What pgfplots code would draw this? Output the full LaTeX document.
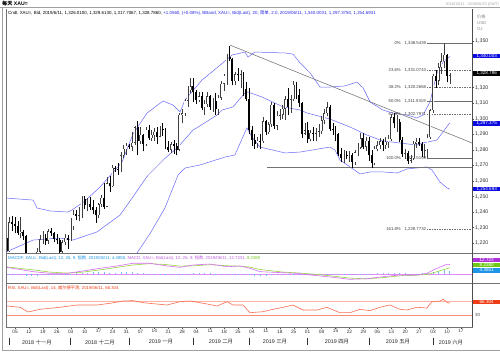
\documentclass[border=0pt]{standalone}
\usepackage{fontspec}
\setmainfont{Liberation Sans}
\newfontfamily\cjk{Noto Sans CJK SC}
\usepackage{pgfplots}
\usepackage{pgfplotstable}
\pgfplotsset{compat=1.18}

\definecolor{bbblue}{RGB}{105,105,250}
\definecolor{legblue}{RGB}{40,40,230}
\definecolor{macdpink}{RGB}{215,110,245}
\definecolor{siggreen}{RGB}{150,215,60}
\definecolor{histblue}{RGB}{110,190,245}
\definecolor{rsired}{RGB}{250,110,80}
\definecolor{rsiband}{RGB}{252,180,165}
\definecolor{boxblue}{RGB}{10,10,225}
\definecolor{boxmag}{RGB}{175,50,215}
\definecolor{boxgreen}{RGB}{110,200,20}
\definecolor{boxcyan}{RGB}{30,150,230}
\definecolor{boxred}{RGB}{240,60,20}
\definecolor{fibgray}{RGB}{110,110,110}
\definecolor{framegray}{RGB}{160,160,160}

\newcommand\fs[1]{\fontsize{#1}{#1}\selectfont}
\pgfplotsset{candle/.style={only marks, mark=*, mark size=0pt, mark options={draw=none, fill=none},
  error bars/y dir=plus, error bars/y explicit, error bars/error mark=none}}

\pgfplotstableread{
i o h l c
0 1215.0 1237.0 1214.5 1233.3
4 1226.6 1237.0 1223.5 1227.2
8 1201.2 1206.0 1196.2 1201.8
9 1201.8 1211.0 1199.5 1210.0
10 1210.0 1217.0 1207.5 1214.6
11 1214.6 1225.0 1212.5 1222.5
12 1222.5 1227.5 1219.5 1223.5
14 1221.5 1229.0 1219.5 1227.5
19 1214.5 1222.0 1213.0 1220.5
20 1220.5 1226.0 1219.0 1223.5
22 1222.0 1236.0 1221.5 1231.0
23 1231.0 1241.0 1228.5 1238.5
25 1237.5 1243.5 1234.0 1238.0
26 1238.0 1250.5 1236.0 1248.5
28 1244.5 1249.0 1240.5 1245.0
32 1238.0 1246.0 1236.0 1245.0
33 1245.0 1251.0 1243.5 1249.0
35 1243.5 1262.5 1243.0 1258.5
37 1256.5 1270.0 1256.0 1268.5
40 1267.5 1278.5 1265.5 1276.5
41 1276.5 1283.0 1275.0 1280.5
42 1280.5 1284.5 1276.5 1282.5
44 1282.0 1291.5 1279.5 1284.5
45 1284.5 1295.5 1283.0 1294.5
47 1285.5 1295.0 1284.0 1289.5
49 1283.5 1295.0 1282.5 1293.0
51 1287.5 1293.0 1286.0 1289.5
52 1289.5 1294.0 1286.0 1291.5
54 1288.5 1295.5 1288.0 1293.5
58 1280.0 1285.0 1278.0 1283.5
61 1280.0 1304.0 1279.0 1302.5
62 1302.5 1306.5 1297.0 1303.5
63 1303.5 1312.5 1301.5 1311.5
64 1311.5 1321.0 1307.5 1318.5
65 1318.5 1326.5 1316.5 1321.0
68 1312.0 1317.5 1310.5 1314.5
70 1307.0 1312.0 1302.5 1309.5
71 1309.5 1317.0 1307.5 1314.5
73 1307.5 1313.5 1304.5 1311.5
75 1306.0 1315.5 1302.5 1313.5
76 1313.5 1324.5 1312.0 1322.5
77 1322.5 1328.5 1318.0 1327.5
78 1327.5 1341.5 1322.0 1340.0
81 1324.0 1330.0 1322.0 1328.5
83 1328.0 1331.5 1319.5 1328.5
89 1284.0 1288.0 1281.5 1286.0
91 1285.5 1301.0 1284.5 1298.5
93 1291.5 1298.0 1290.5 1296.5
94 1296.5 1311.0 1295.0 1309.0
96 1295.5 1305.0 1292.5 1302.0
97 1302.0 1306.5 1299.0 1302.5
98 1302.5 1309.0 1300.0 1306.5
99 1306.5 1314.5 1299.5 1312.5
101 1307.5 1315.0 1303.5 1312.5
102 1312.5 1324.5 1311.5 1322.0
106 1290.5 1297.0 1289.5 1292.5
108 1287.0 1293.0 1285.5 1291.0
110 1290.5 1294.0 1285.5 1291.0
111 1291.0 1296.5 1288.0 1292.0
112 1292.0 1301.5 1290.5 1299.0
113 1299.0 1306.0 1296.5 1303.5
114 1303.5 1310.5 1301.5 1307.5
120 1274.5 1280.0 1271.5 1277.0
122 1276.0 1279.0 1272.5 1276.5
124 1272.0 1280.0 1270.5 1278.5
125 1278.5 1284.5 1276.0 1281.5
126 1281.5 1291.0 1280.5 1287.5
128 1282.0 1288.5 1279.5 1286.0
131 1271.5 1282.5 1270.0 1280.5
132 1280.5 1285.5 1279.0 1283.0
133 1283.0 1287.5 1280.5 1285.5
135 1283.0 1288.0 1280.5 1285.0
136 1285.0 1289.5 1281.5 1287.0
137 1287.0 1303.0 1286.0 1301.0
139 1297.0 1302.5 1291.5 1298.0
142 1277.5 1280.5 1274.0 1278.0
144 1273.0 1276.5 1271.5 1274.5
145 1274.5 1285.5 1273.5 1284.0
146 1284.0 1287.5 1281.5 1285.0
149 1279.5 1283.5 1275.0 1280.0
150 1280.0 1290.0 1274.5 1288.0
151 1288.0 1306.0 1287.0 1305.5
152 1305.5 1328.5 1304.0 1327.5
154 1324.5 1336.0 1322.0 1333.0
155 1333.0 1342.5 1329.0 1337.0
156 1337.0 1348.5 1332.5 1341.0
158 1327.7 1329.6 1322.5 1328.8
}\bull

\pgfplotstableread{
i o h l c
-1 1223.5 1226.5 1211.5 1215.0
1 1233.3 1237.5 1228.0 1232.6
2 1232.6 1236.5 1226.5 1230.8
3 1230.8 1234.0 1225.0 1226.6
5 1227.2 1228.5 1222.0 1224.3
6 1224.3 1225.0 1206.5 1209.5
7 1209.5 1210.5 1200.5 1201.2
13 1223.5 1226.0 1219.0 1221.5
15 1227.5 1229.5 1224.5 1226.5
16 1226.5 1227.0 1220.5 1222.5
17 1222.5 1226.0 1219.5 1222.0
18 1222.0 1223.0 1211.5 1214.5
21 1223.5 1225.0 1216.5 1222.0
24 1238.5 1241.5 1235.0 1237.5
27 1248.5 1250.5 1242.0 1244.5
29 1245.0 1249.5 1241.5 1243.5
30 1243.5 1248.0 1238.5 1241.5
31 1241.5 1243.5 1233.0 1238.0
34 1249.0 1258.5 1242.0 1243.5
36 1258.5 1263.0 1253.0 1256.5
38 1268.5 1269.5 1266.0 1268.0
39 1268.0 1271.5 1264.0 1267.5
43 1282.5 1284.0 1280.5 1282.0
46 1294.5 1298.5 1276.5 1285.5
48 1289.5 1290.0 1279.0 1283.5
50 1293.0 1296.0 1286.5 1287.5
53 1291.5 1294.5 1284.0 1288.5
55 1293.5 1297.5 1289.0 1292.5
56 1292.5 1294.0 1280.5 1282.0
57 1282.0 1285.5 1278.5 1280.0
59 1283.5 1286.5 1277.5 1282.5
60 1282.5 1284.5 1276.5 1280.0
66 1321.0 1326.0 1310.5 1317.0
67 1317.0 1318.5 1309.5 1312.0
69 1314.5 1317.5 1305.5 1307.0
72 1314.5 1315.0 1305.5 1307.5
74 1311.5 1316.5 1302.5 1306.0
79 1340.0 1346.8 1337.0 1338.5
80 1338.5 1339.0 1321.5 1324.0
82 1328.5 1332.5 1324.5 1328.0
84 1328.5 1330.0 1314.5 1319.0
85 1319.0 1323.5 1311.5 1313.0
86 1313.0 1319.5 1290.5 1293.0
87 1293.0 1295.5 1282.5 1286.5
88 1286.5 1290.0 1280.5 1284.0
90 1286.0 1290.5 1280.5 1285.5
92 1298.5 1299.5 1289.5 1291.5
95 1309.0 1310.0 1293.5 1295.5
100 1312.5 1320.0 1302.5 1307.5
103 1322.0 1323.5 1312.5 1315.5
104 1315.5 1319.0 1307.5 1310.0
105 1310.0 1311.0 1287.5 1290.5
107 1292.5 1298.0 1284.5 1287.0
109 1291.0 1294.5 1286.0 1290.5
115 1307.5 1309.0 1292.0 1293.5
116 1293.5 1297.5 1289.5 1293.0
117 1293.0 1295.5 1285.5 1290.0
118 1290.0 1291.0 1276.0 1277.5
119 1277.5 1281.0 1272.0 1274.5
121 1277.0 1279.5 1274.0 1276.0
123 1276.5 1278.0 1268.5 1272.0
127 1287.5 1291.0 1280.5 1282.0
129 1286.0 1288.5 1273.0 1276.5
130 1276.5 1280.0 1268.5 1271.5
134 1285.5 1287.0 1279.5 1283.0
138 1301.0 1303.5 1294.0 1297.0
140 1298.0 1300.0 1285.0 1286.5
141 1286.5 1288.0 1275.5 1277.5
143 1278.0 1279.5 1271.0 1273.0
147 1285.0 1287.5 1282.5 1284.0
148 1284.0 1285.0 1275.5 1279.5
153 1327.5 1331.5 1320.0 1324.5
157 1341.0 1341.5 1323.5 1327.7
}\bear

\begin{document}
\begin{tikzpicture}
\useasboundingbox (0,0) rectangle (500bp,352bp);
\fill[white] (0,0) rectangle (500bp,352bp);

% ---------------- price panel ----------------
\begin{axis}[at={(6bp,99bp)}, anchor=south west, scale only axis,
  width=466bp, height=244bp,
  xmin=-1.23, xmax=165.97, ymin=1213.67, ymax=1370.58,
  axis x line=none, axis y line*=right,
  y axis line style={black!70, line width=0.5bp},
  ytick={1220,1230,...,1350},
  yticklabels={1{,}220,1{,}230,1{,}240,1{,}250,1{,}260,1{,}270,1{,}280,1{,}290,1{,}300,1{,}310,1{,}320,{},{},1{,}350},
  tick align=outside, major tick length=2bp,
  ytick style={black!70, line width=0.4bp},
  yticklabel style={font=\fs{5.3}, text=black!80, anchor=west, inner sep=1bp},
  clip=true]
% Bollinger bands
\addplot[bbblue, line width=0.5bp] coordinates {(-1.2,1249.0) (8.5,1247.7) (9.9,1242.6) (14.6,1240.7) (21.0,1240.0) (22.4,1241.3) (27,1247) (32.5,1256.1) (37.9,1267.0) (40.4,1272.2) (44.3,1290.0) (49.4,1303.7) (55.1,1311.4) (58.7,1308.8) (61.2,1304.3) (63.0,1312.1) (69.1,1324.9) (74.8,1333.3) (79.9,1341.0) (84.5,1342.9) (85.6,1339.7) (88.1,1342.9) (98.9,1342.3) (101.7,1341.6) (104.3,1335.9) (107.9,1329.4) (111.4,1320.4) (115.0,1320.4) (120.4,1321.1) (124.7,1323.6) (126.9,1319.8) (129.4,1310.8) (134.0,1305.6) (137.6,1303.7) (142.6,1302.4) (146.2,1300.5) (148.4,1302.4) (150.9,1310.8) (153.4,1329.4) (155.6,1336.5) (158,1340.0)};
\addplot[bbblue, line width=0.5bp] coordinates {(-1.2,1214.3) (8.5,1222.0) (18.1,1223.3) (22.8,1222.0) (31.4,1227.2) (39.7,1238.1) (44.3,1249.7) (49.4,1263.0) (55.8,1274.5) (60.5,1281.8) (65.9,1292.8) (67.7,1294.7) (74.5,1302.4) (76.3,1305.6) (80.2,1307.6) (84.5,1316.6) (85.6,1317.2) (90.6,1314.0) (98.2,1307.6) (104.3,1305.6) (106.8,1303.7) (115.0,1299.8) (122.2,1294.7) (128.3,1289.5) (134.0,1285.7) (140.1,1284.4) (146.2,1283.1) (148.4,1284.4) (153.4,1286.3) (158,1297.4)};
\addplot[bbblue, line width=0.5bp] coordinates {(-1.2,1198) (8.5,1196.3) (14.6,1200) (21,1204) (27,1205) (32.5,1200) (40,1204) (44.3,1210) (45.8,1213.7) (50.4,1226) (55.8,1242.6) (60.5,1263.8) (63.0,1268.3) (68.4,1270.3) (77.4,1275.4) (80.9,1276.7) (85.2,1294.1) (87.0,1288.3) (89.9,1281.8) (98.9,1278.0) (104.3,1278.6) (115.0,1281.8) (116.8,1279.9) (118.6,1273.5) (122.2,1269.0) (125.8,1264.5) (129.4,1265.8) (134.0,1265.8) (139.1,1265.1) (142.6,1267.7) (149.8,1269.0) (151.6,1267.0) (154.5,1259.3) (157.0,1255.5) (158,1254.7)};
% trend line and support line
\addplot[black!55, line width=0.55bp] coordinates {(79.1,1347.4) (166,1284.4)};
\addplot[black!55, line width=0.55bp] coordinates {(92.4,1268.6) (166,1268.6)};
% Fibonacci levels
\addplot[fibgray, line width=0.5bp] coordinates {(149.8,1348.5439) (166,1348.5439)};
\addplot[fibgray, line width=0.5bp, dash pattern=on 1.5bp off 1bp] coordinates {(149.8,1331.0743) (166,1331.0743)};
\addplot[fibgray, line width=0.5bp, dash pattern=on 1.5bp off 1bp] coordinates {(149.8,1320.2668) (166,1320.2668)};
\addplot[fibgray, line width=0.5bp] coordinates {(149.8,1311.5319) (166,1311.5319)};
\addplot[fibgray, line width=0.5bp, dash pattern=on 1.5bp off 1bp] coordinates {(149.8,1302.7971) (166,1302.7971)};
\addplot[fibgray, line width=0.5bp] coordinates {(149.8,1274.5199) (166,1274.5199)};
\addplot[fibgray, line width=0.5bp, dash pattern=on 1.5bp off 1bp] coordinates {(149.8,1228.7732) (166,1228.7732)};
\begin{scope}[every node/.style={font=\fs{4.3}, text=black!75, inner sep=0.3bp}]
\node[anchor=east] at (axis cs:140.6,1348.5439) {.0\%};
\node[anchor=west] at (axis cs:141.6,1348.5439) {1,348.5439};
\node[anchor=east] at (axis cs:140.6,1331.0743) {23.6\%};
\node[anchor=west] at (axis cs:141.6,1331.0743) {1,331.0743};
\node[anchor=east] at (axis cs:140.6,1320.2668) {38.2\%};
\node[anchor=west] at (axis cs:141.6,1320.2668) {1,320.2668};
\node[anchor=east] at (axis cs:140.6,1311.5319) {50.0\%};
\node[anchor=west] at (axis cs:141.6,1311.5319) {1,311.5319};
\node[anchor=east] at (axis cs:140.6,1302.7971) {61.8\%};
\node[anchor=west] at (axis cs:141.6,1302.7971) {1,302.7971};
\node[anchor=east] at (axis cs:140.6,1274.5199) {100.0\%};
\node[anchor=west] at (axis cs:141.6,1274.5199) {1,274.5199};
\node[anchor=east] at (axis cs:140.6,1228.7732) {161.8\%};
\node[anchor=west] at (axis cs:141.6,1228.7732) {1,228.7732};
\end{scope}
% wicks
\addplot[candle, error bars/error bar style={line width=0.45bp, black!75}]
  table[x=i, y=l, y error plus expr=\thisrow{h}-\thisrow{l}] {\bull};
\addplot[candle, error bars/error bar style={line width=0.45bp, black}]
  table[x=i, y=l, y error plus expr=\thisrow{h}-\thisrow{l}] {\bear};
% bear bodies
\addplot[candle, error bars/error bar style={line width=1.9bp, black}]
  table[x=i, y=c, y error plus expr={max(\thisrow{o}-\thisrow{c},0.5)}] {\bear};
% bull bodies (outline then white)
\addplot[candle, error bars/error bar style={line width=1.9bp, black!75}]
  table[x=i, y=o, y error plus expr={max(\thisrow{c}-\thisrow{o},0.5)}] {\bull};
\addplot[candle, error bars/error bar style={line width=1.1bp, white}]
  table[x=i, y expr=\thisrow{o}+0.27, y error plus expr={max(\thisrow{c}-\thisrow{o}-0.54,0)}] {\bull};
\end{axis}

% ---------------- MACD panel ----------------
\begin{axis}[at={(6bp,69bp)}, anchor=south west, scale only axis,
  width=466bp, height=30bp,
  xmin=-1.23, xmax=165.97, ymin=-12, ymax=28, hide axis, clip=true]
\addplot[macdpink!80, line width=0.8bp] coordinates {(-1.23,0) (165.97,0)};
\addplot[ycomb, histblue, line width=0.6bp, mark=none] coordinates {(0,-0.8) (2,-1.4) (4,-2.0) (6,-2.4) (8,-2.4) (10,-2.2) (12,-1.8) (14,-1.6) (16,-1.2) (18,-0.6) (20,-0.3) (22,0.4) (24,1.0) (26,1.5) (28,1.8) (30,2.0) (32,2.1) (34,2.0) (36,1.9) (38,1.9) (40,2.0) (42,2.2) (44,2.3) (46,1.8) (48,1.0) (50,0.5) (52,-0.4) (54,-1.2) (56,-1.8) (58,-1.8) (60,-1.6) (62,-0.6) (64,0.6) (66,1.2) (68,1.1) (70,1.0) (72,0.8) (74,0.2) (76,-0.6) (78,-1.3) (80,-0.6) (82,0.2) (84,-0.6) (86,-1.6) (88,-2.6) (90,-2.9) (92,-2.5) (94,-2.0) (96,-1.5) (98,-0.8) (100,-0.6) (102,-0.5) (104,-0.8) (106,-1.3) (108,-1.5) (110,-1.5) (112,-1.4) (114,-1.5) (116,-1.6) (118,-1.7) (120,-1.6) (122,-1.6) (124,-1.0) (126,-0.4) (128,0.2) (130,0.6) (132,1.0) (134,1.2) (136,1.3) (138,1.2) (140,1.2) (142,0.8) (144,0.3) (146,0.2) (148,0.8) (150,1.5) (152,3.0) (154,4.6) (156,5.5) (158,4.49)};
\addplot[siggreen, line width=0.6bp] coordinates {(-1,9.5) (8.5,5.5) (14.6,2.5) (20.7,1.2) (26.4,2.5) (32.5,5.5) (38.6,8.8) (44.3,12.0) (50.4,13.8) (56.5,12.5) (61.2,10.5) (65.9,10.8) (71.9,12.4) (78.1,11.0) (82.7,10.5) (86.3,9.2) (89.9,6.0) (98.2,2.5) (103.2,1.5) (107.9,0.2) (116.1,-2.8) (122.2,-5.5) (128.3,-6.5) (134.0,-4.8) (140.1,-2.5) (146.2,-1.5) (149.8,-0.6) (153.4,3.0) (157.0,7.2) (158,8.24)};
\addplot[macdpink, line width=0.6bp] coordinates {(-1,8.9) (8.5,3.1) (14.6,0.9) (20.7,0.9) (26.4,4.0) (32.5,7.6) (38.6,10.7) (44.3,14.3) (50.4,14.3) (56.5,10.7) (61.2,8.9) (65.9,12.0) (71.9,13.3) (78.1,9.7) (82.7,10.7) (86.3,7.6) (89.9,3.1) (98.2,1.7) (103.2,0.9) (107.9,-1.3) (116.1,-4.4) (122.2,-7.1) (128.3,-6.3) (134.0,-3.6) (140.1,-1.3) (146.2,-1.3) (149.8,0.9) (153.4,7.6) (157.0,12.9) (158,12.72)};
\end{axis}

% ---------------- RSI panel ----------------
\begin{axis}[at={(6bp,25bp)}, anchor=south west, scale only axis,
  width=466bp, height=44bp,
  xmin=-1.23, xmax=165.97, ymin=-5.6, ymax=124.8,
  axis y line=none, axis x line*=bottom,
  x axis line style={black!70, line width=0.5bp},
  xtick={2,7,...,162},
  xticklabels={05,12,19,26,03,10,17,24,31,07,14,21,28,04,11,18,25,04,11,18,25,01,08,15,22,29,06,13,20,27,03,10,17},
  tick align=outside, major tick length=1.5bp,
  xtick style={black!70, line width=0.4bp},
  xticklabel style={font=\fs{4.8}, text=black!80, inner sep=1bp},
  clip=true]
\addplot[rsiband, line width=1.6bp] coordinates {(-1.23,70) (165.97,70)};
\addplot[rsired!80, line width=0.6bp] coordinates {(-1.23,30) (165.97,30)};
\addplot[rsired, line width=0.6bp] coordinates {(-0.9,56.7) (3.8,52.8) (6.7,38.9) (11.0,46.9) (18.1,52.8) (24.2,59.6) (31.4,59.6) (36.1,64.7) (40.8,71.5) (44.3,72.4) (48.0,66.4) (56.5,59.6) (61.2,69.4) (64.8,71.5) (70.9,62.6) (74.5,56.7) (78.1,69.4) (80.2,59.6) (83.8,59.6) (86.3,36.8) (91.0,39.8) (94.6,46.9) (98.2,52.8) (101.7,59.6) (105.3,44.8) (110.4,44.8) (113.9,52.8) (118.6,36.8) (122.2,36.8) (125.8,46.9) (129.4,42.7) (132.9,52.8) (136.5,59.6) (140.1,46.9) (142.6,44.8) (146.2,52.8) (149.8,50.7) (151.6,69.4) (154.5,71.5) (155.6,76.5) (157.4,65.5) (158,66.3)};
\end{axis}

% ---------------- frame and texts (pixel coordinates) ----------------
\begin{scope}[x=1bp, y=-1bp, shift={(0,352bp)}]
\draw[framegray, line width=1bp] (0,8) -- (500,8);
\draw[framegray, line width=0.8bp] (2,8) -- (2,350) -- (500,350);
\draw[black!55, line width=0.5bp] (6,9) -- (6,327) -- (472,327) -- (472,253);
\draw[black!55, line width=0.5bp] (6,253) -- (500,253);
\draw[black!55, line width=0.5bp] (6,283) -- (500,283);
\draw[black!70, line width=0.5bp] (472,253) -- (472,327);

\node[anchor=west, inner sep=0, font=\fs{5.2}\bfseries] at (2,3.5) {{\cjk 每天} XAU=};
\node[anchor=east, inner sep=0, font=\fs{3.8}, text=black!35] at (499,5) {2018/10/31 - 2019/06/23 (GMT)};
\node[anchor=west, inner sep=0, font=\fs{4.45}] at (8,13.5) {Cndl, XAU=, Bid, 2019/6/11, 1,326.0100, 1,329.6130, 1,317.7067, 1,328.7860, \textcolor{legblue}{+1.0560, (+0.08\%), BBand, XAU=, Bid(Last), 20, {\cjk 简单}, 2.0, 2019/06/11, 1,340.0031, 1,297.3750, 1,254.6931}};
\begin{scope}[every node/.style={anchor=west, inner sep=0, font=\fs{4.3}, text=black!45}]
\node at (477,17) {\cjk 价格};
\node at (477,23) {USD};
\node at (477,29) {Oz};
\end{scope}

\node[anchor=west, inner sep=0, font=\fs{4.3}] at (8,258) {\textcolor{boxcyan}{MACDF, XAU=, Bid(Last), 12, 26, 9, {\cjk 指数}, 2019/06/11, 4.4850,} \textcolor{boxmag!80}{MACD, XAU=, Bid(Last), 12, 26, 9, {\cjk 指数}, 2019/06/11, 12.7231,} \textcolor{boxgreen}{8.2380}};
\node[anchor=west, inner sep=0, font=\fs{4.3}, text=boxred] at (8,288) {RSI, XAU=, Bid(Last), 14, {\cjk 威尔德平滑}, 2019/06/11, 66.304};

% value boxes
\begin{scope}[every node/.style={anchor=west, inner sep=0.5bp, minimum height=4.8bp, minimum width=28bp, align=left, font=\fs{4.6}, text=white}]
\node[fill=boxblue] at (472.5,56) {1,340.003};
\node[fill=black] at (472.5,73.5) {1,328.786};
\node[fill=boxblue] at (472.5,123.3) {1,297.375};
\node[fill=boxblue] at (472.5,189) {1,254.693};
\node[fill=boxmag, minimum height=4.6bp] at (472.5,260) {12.723};
\node[fill=boxgreen, minimum height=4.6bp] at (472.5,265.2) {8.2380};
\node[fill=boxcyan, minimum height=4.6bp] at (472.5,270.4) {4.4851};
\node[fill=boxred, minimum height=4.6bp] at (472.5,302) {66.304};
\end{scope}
\node[anchor=west, inner sep=0, font=\fs{4.5}, text=black!70] at (475,315) {30};

% month labels
\begin{scope}[every node/.style={inner sep=0, font=\fs{5.4}, text=black!85}]
\node at (37,342) {2018 {\cjk 十一月}};
\node at (100,342) {2018 {\cjk 十二月}};
\node at (161,342) {2019 {\cjk 一月}};
\node at (221,342) {2019 {\cjk 二月}};
\node at (275,342) {2019 {\cjk 三月}};
\node at (337,342) {2019 {\cjk 四月}};
\node at (398,342) {2019 {\cjk 五月}};
\node at (451,342) {2019 {\cjk 六月}};
\end{scope}
\foreach \xx in {9,70.7,129.3,193.4,249,307.5,368.8,433} {
  \draw[black!80, line width=0.5bp] (\xx,338.5) -- (\xx,345.5);
}
\end{scope}
\end{tikzpicture}
\end{document}
